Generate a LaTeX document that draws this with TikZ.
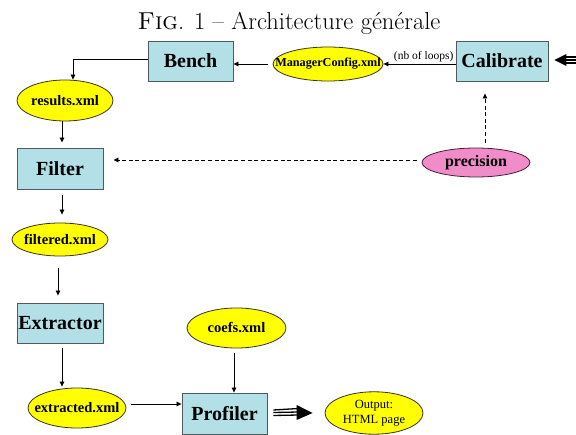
\documentclass[tikz,border=0pt]{standalone}
\usepackage{fontspec}
\newfontfamily\tnr{Liberation Serif}
\usetikzlibrary{shapes.geometric,arrows.meta,calc}
\definecolor{boxblue}{RGB}{178,224,230}
\definecolor{fileyellow}{RGB}{255,255,0}
\definecolor{precpink}{RGB}{240,140,200}
\definecolor{edgedark}{RGB}{60,50,30}
\definecolor{boxedge}{RGB}{80,90,95}
\begin{document}
\begin{tikzpicture}[x=1pt,y=-1pt,
  box/.style={draw=boxedge, line width=0.9pt, fill=boxblue, inner sep=0pt,
    font=\tnr\bfseries\fontsize{20}{22}\selectfont},
  file/.style={ellipse, draw=edgedark, line width=0.8pt, fill=fileyellow, inner sep=0pt,
    font=\tnr\bfseries\fontsize{14.5}{16}\selectfont},
  prec/.style={file, fill=precpink, draw={rgb,255:red,70;green,30;blue,60},
    font=\tnr\bfseries\fontsize{16}{18}\selectfont},
  arr/.style={-{Triangle[length=5pt,width=4.5pt]}, line width=0.8pt},
  dasharr/.style={arr, dash pattern=on 4pt off 2.6pt},
  fat/.style={line width=1.3pt}
]
\useasboundingbox (0,0) rectangle (576,435);

% title
\node[anchor=base, inner sep=0pt, font=\fontsize{24.5}{28}\selectfont] (title) at (289,30)
  {\textsc{Fig}. 1 -- Architecture générale};

% boxes
\node[box, minimum width=85pt, minimum height=40pt] (bench) at (190.5,61) {Bench};
\node[box, minimum width=92pt, minimum height=40pt] (calib) at (502,61) {Calibrate};
\node[box, minimum width=86pt, minimum height=41pt] (filter) at (60,168.5) {Filter};
\node[box, minimum width=86pt, minimum height=40pt] (extr) at (60,323) {\makebox[0pt]{Extractor}};
\node[box, minimum width=85pt, minimum height=41pt] (prof) at (224.5,413.5) {Profiler};

% files
\node[file, minimum width=110pt, minimum height=34pt, font=\tnr\bfseries\fontsize{12.2}{14}\selectfont]
  (mgr) at (328,64) {\makebox[0pt]{ManagerConfig.xml}};
\node[file, minimum width=96pt, minimum height=41pt] (res) at (65,100.5) {\makebox[0pt]{results.xml}};
\node[file, minimum width=96pt, minimum height=33pt] (filt) at (60,239.5) {\makebox[0pt]{filtered.xml}};
\node[file, minimum width=98pt, minimum height=40pt] (extd) at (77,408) {\makebox[0pt]{extracted.xml}};
\node[file, minimum width=99pt, minimum height=40pt] (coefs) at (236.5,328) {\makebox[0pt]{coefs.xml}};
\node[file, minimum width=98pt, minimum height=40pt, font=\tnr\fontsize{12.5}{15}\selectfont]
  (out) at (374,413) {\makebox[0pt]{\begin{tabular}{@{}c@{}}Output:\\HTML page\end{tabular}}};
\node[prec, minimum width=108pt, minimum height=29pt] (prec) at (476,162.5) {\makebox[0pt]{precision}};

% label
\node[font=\tnr\fontsize{11.5}{13}\selectfont, anchor=south east, inner sep=1pt] (loops)
  at ($(calib.west|-mgr.east)+(-1,-1)$) {(nb of loops)};

% connectors
\draw[arr] (calib.west|-mgr.east) -- (mgr.east);
\draw[arr, shorten <=5pt] (mgr.west) -- (mgr.west-|bench.east);
\draw[arr] ([yshift=2pt]bench.west) -| ([xshift=8pt]res.north);
\draw[arr, shorten >=5pt] ([xshift=-3pt]res.south) -- ([xshift=-3pt]res.south|-filter.north);
\draw[arr, shorten <=6pt, shorten >=8pt] ([xshift=2pt]filter.south) -- ([xshift=2pt]filter.south|-filt.north);
\draw[arr, shorten <=12pt, shorten >=7pt] ([xshift=-2pt]filt.south) -- ([xshift=-2pt]filt.south|-extr.north);
\draw[arr, shorten <=5pt, shorten >=1pt] ([xshift=2pt]extr.south) -- ([xshift=2pt]extr.south|-extd.north);
\draw[arr, shorten <=5pt] ([yshift=4pt]extd.east) -- ([yshift=4pt]extd.east-|prof.west);
\draw[arr, shorten <=5pt] ([xshift=-2.5pt]coefs.south) -- ([xshift=-2.5pt]coefs.south|-prof.north);
\draw[dasharr, shorten <=5pt, shorten >=10pt] ([yshift=2.5pt]prec.west) -- ([yshift=2.5pt]prec.west-|filter.east);
\draw[dasharr, shorten <=5pt, shorten >=12pt] ([xshift=9pt]prec.north) -- ([xshift=9pt]prec.north|-calib.south);

% triple arrow Profiler -> Output
\coordinate (pa) at ($(prof.east)+(6,0)$);
\coordinate (pb) at ($(out.west)+(-12,0)$);
\draw[fat] ($(pa)+(0,-3.5)$) -- ($(pb)+(-14,-4.5)$);
\draw[fat] ($(pa)+(0,-1)$) -- ($(pb)+(-14,-1)$);
\draw[fat] ($(pa)+(0,2)$) -- ($(pb)+(-14,2)$);
\fill ($(pb)+(-16,-8)$) -- (pb) -- ($(pb)+(-16,7)$) -- cycle;

% incoming arrow into Calibrate
\coordinate (cin) at (576,60);
\coordinate (ctip) at ($(calib.east)+(6,-1)$);
\draw[fat] ($(ctip)+(11,-3)$) -- ($(cin)+(0,-3)$);
\draw[fat] ($(ctip)+(11,0)$) -- (cin);
\draw[fat] ($(ctip)+(11,3)$) -- ($(cin)+(0,3)$);
\fill (ctip) -- ($(ctip)+(12,-6)$) -- ($(ctip)+(12,6)$) -- cycle;
\end{tikzpicture}
\end{document}
